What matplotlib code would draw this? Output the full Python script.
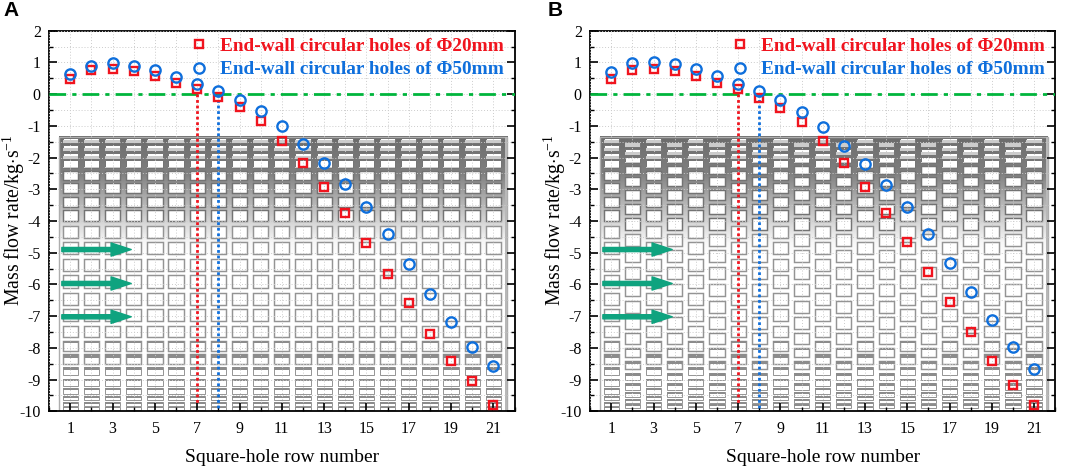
import numpy as np
import matplotlib
matplotlib.use("Agg")
import matplotlib.pyplot as plt
from matplotlib.lines import Line2D
from matplotlib.patches import Rectangle
from matplotlib.ticker import MultipleLocator

plt.rcParams["font.family"] = ["Liberation Serif", "DejaVu Serif"]
plt.rcParams["mathtext.fontset"] = "custom"
plt.rcParams["mathtext.rm"] = "Liberation Serif"
plt.rcParams["mathtext.default"] = "rm"
plt.rcParams["axes.unicode_minus"] = False

rows = np.arange(1, 22)

red_a = [0.49, 0.75, 0.78, 0.73, 0.57, 0.36, 0.15, -0.10, -0.42, -0.86, -1.47,
         -2.17, -2.94, -3.76, -4.69, -5.66, -6.60, -7.55, -8.40, -9.06, -9.80]
blue_a = [0.63, 0.90, 0.97, 0.90, 0.76, 0.55, 0.33, 0.09, -0.18, -0.54, -1.02,
          -1.58, -2.18, -2.83, -3.56, -4.40, -5.35, -6.29, -7.18, -7.97, -8.58]
red_b = [0.49, 0.76, 0.79, 0.73, 0.56, 0.36, 0.15, -0.12, -0.43, -0.88, -1.49,
         -2.18, -2.94, -3.74, -4.66, -5.60, -6.55, -7.50, -8.42, -9.16, -9.81]
blue_b = [0.69, 0.97, 1.01, 0.95, 0.78, 0.56, 0.33, 0.09, -0.20, -0.57, -1.05,
          -1.62, -2.21, -2.85, -3.57, -4.42, -5.33, -6.25, -7.13, -7.98, -8.67]

# hole rows of the wall drawing behind the points
hole_y = np.array([-1.47, -1.70, -1.94, -2.20, -2.57, -2.96, -3.39, -3.84, -4.35,
                   -4.85, -5.38, -5.91, -6.45, -6.96, -7.47, -7.93, -8.35, -8.73,
                   -9.08, -9.36, -9.58, -9.77, -9.91])
arrow_y = [-4.9, -5.97, -7.02]

RED = "#f0141e"
BLUE = "#0f6fdc"
GREEN = "#00b53c"
TEAL = "#0fa37f"
W, H = 1065, 468


def draw_wall(ax, staggered):
    # grey shading, dark at the top and fading out by the middle
    level = np.interp(np.linspace(-1.35, -10, 200),
                      [-10, -5.2, -4.7, -3.5, -2.5, -1.35], [1, 1, 0.97, 0.72, 0.5, 0.42])
    ax.imshow(level[:, None], cmap="gray", vmin=0, vmax=1, aspect="auto",
              extent=(0.46, 21.65, -10, -1.35), zorder=0.5)
    ax.add_patch(Rectangle((0.46, -10), 21.19, 8.65, fc="none", ec="0.68", lw=1.0, zorder=0.6))
    ax.add_patch(Rectangle((21.55, -10), 0.1, 8.65, fc="0.72", ec="none", zorder=0.6))

    ys_mid = (hole_y[:-1] + hole_y[1:]) / 2
    gaps = np.abs(np.gradient(hole_y))
    for col in rows:
        if staggered and col % 2 == 0:
            ys = ys_mid
            hs = np.abs(np.gradient(ys_mid)) * 0.72
        else:
            ys = hole_y
            hs = gaps * 0.72
        for y, h in zip(ys, hs):
            edge = "0.45" if y > -4.3 else "0.58"
            width = 0.7 if (y > -2.3 or y < -8.7) else 1.05
            ax.add_patch(Rectangle((col - 0.36, y - h / 2), 0.72, h, fc="white", ec=edge,
                                   lw=width, zorder=0.7))
            upper = np.clip((-2.3 - y) / -1.0, 0, 0.7)
            if upper > 0:
                ax.add_patch(Rectangle((col - 0.36, y - h / 2), 0.72, h * upper, fc="0.8",
                                       ec="none", zorder=0.8))
            lower = np.clip((-7.4 - y) / 2.6, 0, 0.4)
            if lower > 0:
                ax.add_patch(Rectangle((col - 0.36, y + h / 2 - h * lower), 0.72, h * lower,
                                       fc="0.55", ec="none", zorder=0.8))


def draw_panel(rect, red, blue, staggered, letter, letter_x):
    left, top, right, bottom = rect
    ax = fig.add_axes([left / W, 1 - bottom / H, (right - left) / W, (bottom - top) / H])
    draw_wall(ax, staggered)

    ax.axhline(0, color=GREEN, lw=2.0, ls=(0, (6, 2.2, 1.5, 2.2)), zorder=3)
    ax.plot([7, 7], [0, -9.75], color=RED, lw=2.0, ls=(0, (1, 1)), zorder=3)
    ax.plot([8, 8], [0, -10], color=BLUE, lw=2.0, ls=(0, (1, 1)), zorder=3)

    ax.plot(rows, red, ls="none", marker="s", ms=6.4, mfc="none", mec=RED, mew=1.7, zorder=4)
    ax.plot(rows, blue, ls="none", marker="o", ms=7.4, mfc="none", mec=BLUE, mew=1.7, zorder=5)

    for y in arrow_y:
        ax.annotate("", xy=(3.88, y), xytext=(0.6, y), zorder=6,
                    arrowprops=dict(width=3, headwidth=9.5, headlength=14.5, color=TEAL, shrink=0))

    ax.set_xlim(0, 22)
    ax.set_ylim(-10, 2)
    ax.xaxis.set_major_locator(MultipleLocator(2, offset=1))
    ax.xaxis.set_minor_locator(MultipleLocator(1))
    ax.yaxis.set_major_locator(MultipleLocator(1))
    ax.yaxis.set_minor_locator(MultipleLocator(0.5))
    ax.set_axisbelow(False)
    ax.grid(which="both", color="0.8", lw=0.7, ls=(0, (1, 2)))
    ax.tick_params(which="major", direction="in", length=5.5, width=1.2, labelsize=11.5,
                   left=True, right=True, bottom=True, top=False, pad=6)
    ax.tick_params(which="minor", direction="in", length=3, width=1.0,
                   left=True, right=True, bottom=True, top=False)
    ax.tick_params(axis="x", which="major", pad=7)
    for spine in ax.spines.values():
        spine.set_linewidth(1.3)

    fig.text((right + left) / 2 / W, 1 - 457 / H, "Square-hole row number",
             ha="center", va="center", fontsize=14)
    fig.text((left - 35) / W, 1 - 220 / H, "Mass flow rate/kg$\\cdot$s$^{-1}$",
             rotation=90, ha="center", va="center", fontsize=14.2)
    fig.text(letter_x / W, 1 - 11 / H, letter, family="Liberation Sans", weight="bold",
             fontsize=15, ha="left", va="center")

    handles = [Line2D([], [], ls="none", marker="s", ms=6.4, mfc="none", mec=RED, mew=1.7),
               Line2D([], [], ls="none", marker="o", ms=7.4, mfc="none", mec=BLUE, mew=1.7)]
    labels = ["End-wall circular holes of Φ20mm", "End-wall circular holes of Φ50mm"]
    leg = ax.legend(handles, labels, loc="upper left", bbox_to_anchor=(6.28 / 22, 1.0),
                    frameon=False, numpoints=1, handlelength=1.1, handletextpad=0.52,
                    labelspacing=0.32, borderaxespad=0.0, borderpad=0.34,
                    prop=dict(family="Liberation Serif", weight="bold", size=13.9))
    leg.set_zorder(7)
    for text, colour in zip(leg.get_texts(), [RED, BLUE]):
        text.set_color(colour)
    return ax


fig = plt.figure(figsize=(W / 100, H / 100), dpi=100)
draw_panel((49.15, 30.7, 514.5, 411.3), red_a, blue_a, False, "A", 3)
draw_panel((590.2, 30.7, 1055.2, 411.3), red_b, blue_b, True, "B", 548)

fig.savefig("out.png", dpi=100)
